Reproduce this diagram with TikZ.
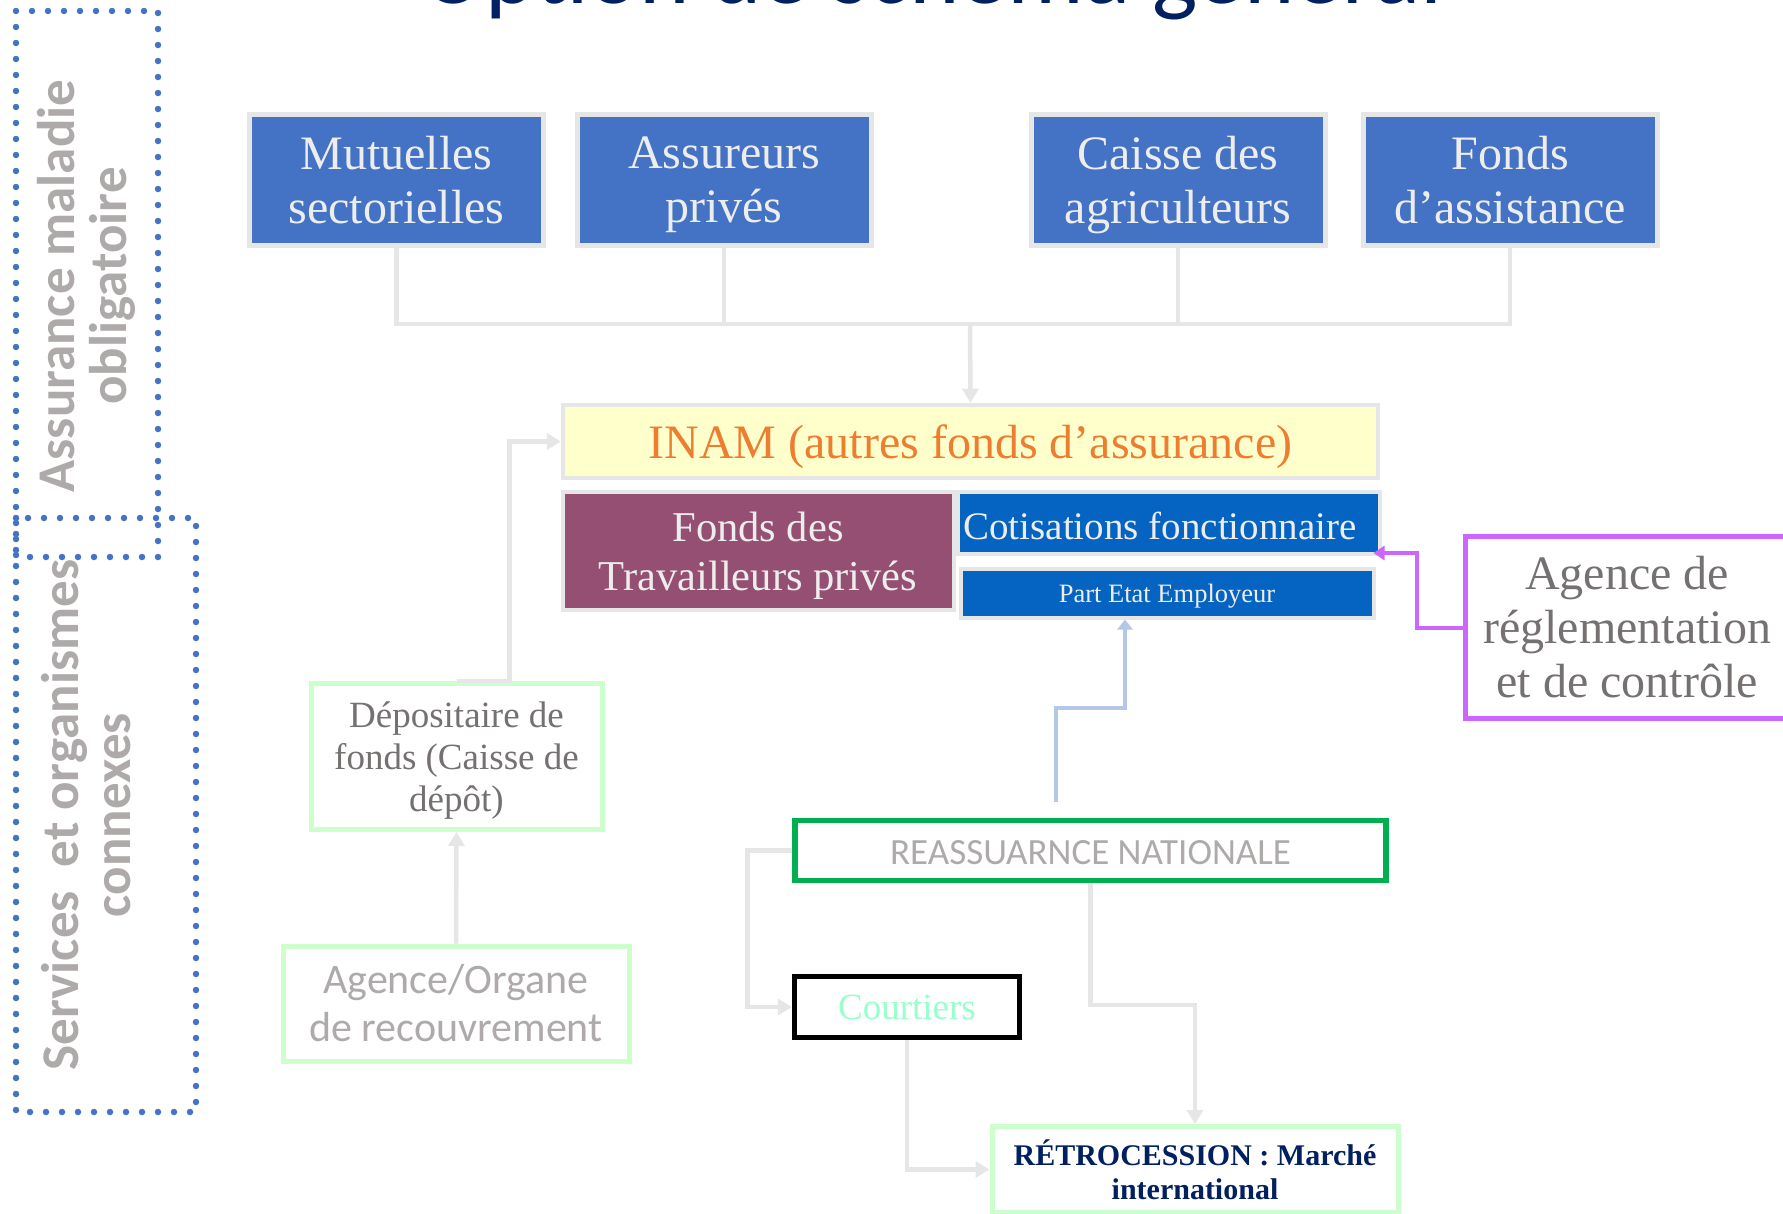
\documentclass[tikz,border=0pt]{standalone}
\usepackage{fontspec}
\setmainfont{Liberation Serif}
\newfontfamily\calfont{Carlito}
\usetikzlibrary{arrows.meta}
\definecolor{obleu}{HTML}{4472C4}
\definecolor{lbord}{HTML}{E6E6E6}
\definecolor{txtl}{HTML}{EDEDED}
\definecolor{cream}{HTML}{FFFFCC}
\definecolor{orangeT}{HTML}{ED7D31}
\definecolor{mauve}{HTML}{954F72}
\definecolor{hblue}{HTML}{0563C1}
\definecolor{purp}{HTML}{CC66FF}
\definecolor{dgray}{HTML}{767171}
\definecolor{mgray}{HTML}{AEAAAA}
\definecolor{mint}{HTML}{CCFFCC}
\definecolor{ogreen}{HTML}{00B050}
\definecolor{aqua}{HTML}{99FFCC}
\definecolor{navy}{HTML}{002060}
\definecolor{lblue}{HTML}{B4C7E7}
\newcommand\zd[1]{\raisebox{0pt}[\height][0pt]{#1}}
\newcommand\dn[2]{\raisebox{-#1}[\height][\depth]{#2}}
\tikzset{
  box/.style={rectangle, inner sep=0pt, align=center},
  topbox/.style={box, fill=obleu, draw=lbord, line width=5pt, minimum width=294pt, minimum height=131pt,
    text=txtl, font=\fontsize{48pt}{54pt}\selectfont},
  gline/.style={draw=lbord, line width=4.5pt},
  garrow/.style={gline, -{Triangle[width=16pt,length=14pt]}},
  parrow/.style={draw=purp, line width=4pt, -{Triangle[width=14pt,length=11pt]}},
  barrow/.style={draw=lblue, line width=3.5pt, -{Triangle[width=15pt,length=10pt]}},
  dotline/.style={draw=obleu, line width=6.5pt, line cap=round, dash pattern=on 0pt off 16pt},
  sidelabel/.style={rotate=90, inner sep=0pt, align=center, text=mgray,
    font=\calfont\bfseries\fontsize{53pt}{52pt}\selectfont}
}
\begin{document}
\begin{tikzpicture}[x=1pt,y=-1pt]
\useasboundingbox (0,0) rectangle (1783,1213);
\fill[white] (0,0) rectangle (1783,1213);

% title (cut by the top edge)
\node[anchor=base, inner sep=0pt, text=navy, font=\calfont\fontsize{96pt}{100pt}\selectfont] (title) at (932,3) {Option de schéma général};

% left dotted frames
\draw[dotline] (16,11) rectangle (158,557);
\draw[dotline] (16,518) rectangle (196,1112);
\node[sidelabel] (lab1) at (86,286) {Assurance maladie\\obligatoire};
\node[sidelabel] (lab2) at (86,815) {Services\ \ et organismes\\connexes};

% top row
\node[topbox] (mut) at (396.5,179.5) {Mutuelles\\\zd{sectorielles}};
\node[topbox] (ass) at (724,179.5) {Assureurs\\\zd{privés}};
\node[topbox] (cai) at (1178,179.5) {Caisse des\\\zd{agriculteurs}};
\node[topbox] (fon) at (1510,179.5) {Fonds\\\zd{d’assistance}};

% INAM block
\node[box, fill=cream, draw=lbord, line width=4.5pt, minimum width=815pt, minimum height=73pt,
  text=orangeT, font=\fontsize{48pt}{56pt}\selectfont] (inam) at (970.5,441.5) {\zd{INAM (autres fonds d’assurance)}};
\node[box, fill=mauve, draw=lbord, line width=4pt, minimum width=391pt, minimum height=118pt,
  text=txtl, font=\fontsize{42.5pt}{49pt}\selectfont] (ftp) at (758,551) {Fonds des\\\zd{Travailleurs privés}};
\node[box, fill=hblue, draw=lbord, line width=4pt, minimum width=422pt, minimum height=62pt,
  text=txtl, font=\fontsize{39pt}{45pt}\selectfont] (cot) at (1168.5,523) {\dn{2.5pt}{Cotisations fonctionnaire}\hspace*{17pt}};
\node[box, fill=hblue, draw=lbord, line width=4pt, minimum width=413pt, minimum height=49pt,
  text=txtl, font=\fontsize{26.5pt}{31pt}\selectfont] (pe) at (1167,593) {\zd{Part Etat Employeur}};

% regulator
\node[box, fill=white, draw=purp, line width=5pt, minimum width=323pt, minimum height=182pt,
  text=dgray, font=\fontsize{48pt}{54pt}\selectfont] (agr) at (1627,627.5) {Agence de\\réglementation\\et de contrôle};

% left services
\node[box, fill=white, draw=mint, line width=5pt, minimum width=291pt, minimum height=146pt,
  text=dgray, font=\fontsize{37pt}{42pt}\selectfont] (dep) at (456.5,756.5) {Dépositaire de\\fonds (Caisse de\\\zd{dépôt)}};
\node[box, fill=white, draw=mint, line width=5pt, minimum width=346pt, minimum height=115pt,
  text=mgray, font=\calfont\fontsize{42pt}{48pt}\selectfont] (org) at (456,1003.5) {Agence/Organe\\de recouvrement};

% reinsurance
\node[box, fill=white, draw=ogreen, line width=5.5pt, minimum width=591pt, minimum height=60pt,
  text=mgray, font=\calfont\fontsize{37pt}{44pt}\selectfont] (rea) at (1090.5,850.5) {\dn{2pt}{REASSUARNCE NATIONALE}};
\node[box, fill=white, draw=black, line width=5.5pt, minimum width=225pt, minimum height=61pt,
  text=aqua, font=\fontsize{37pt}{44pt}\selectfont] (cou) at (907,1007) {Courtiers};
\node[box, fill=white, draw=mint, line width=5pt, minimum width=406pt, minimum height=86pt,
  text=navy, font=\bfseries\fontsize{30pt}{34pt}\selectfont] (ret) at (1195,1169.5) {RÉTROCESSION : Marché\\international};

% connectors
\coordinate (bus) at (970,324);
\draw[gline] (mut.south) |- (fon.south |- bus) -- (fon.south);
\draw[gline] (ass.south) -- (ass.south |- bus);
\draw[gline] (cai.south) -- (cai.south |- bus);
\draw[garrow] (bus) -- (inam.north);

\draw[garrow] (dep.north) -- ++(53,0) |- (inam.west);
\draw[garrow] (org.north) -- (dep.south);

\draw[parrow] (agr.west) -- ++(-46,0) |- ([xshift=-8pt,yshift=-30pt]cot.east);

\coordinate (rs) at (1056,802);
\coordinate (bend) at (1056,708);
\draw[barrow] (rs) -- (bend) -| ([xshift=-42pt]pe.south);

\draw[garrow] (rea.west) -- ++(-45,0) |- (cou.west);
\draw[garrow] (rea.south) -- (rea.south |- 0,1005) -| (ret.north);
\draw[garrow] (cou.south) |- (ret.west);
\end{tikzpicture}
\end{document}
